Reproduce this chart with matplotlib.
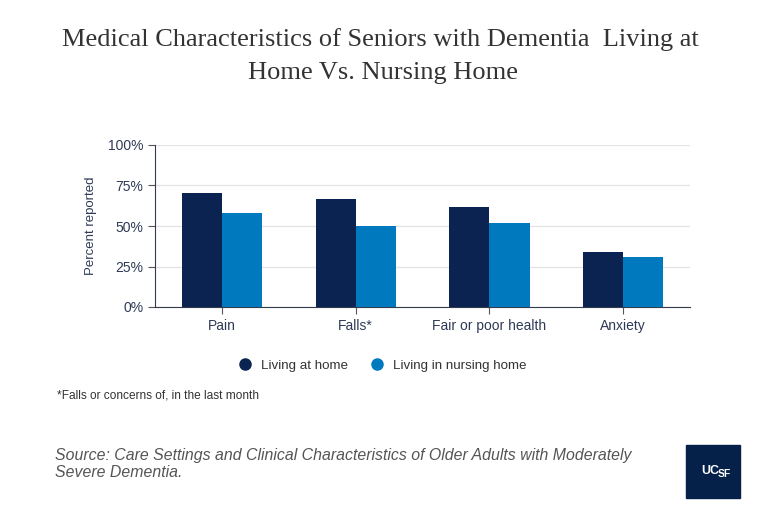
import matplotlib.pyplot as plt
from matplotlib.patches import Rectangle
import numpy as np

categories = ['Pain', 'Falls*', 'Fair or poor health', 'Anxiety']
at_home = [70.5, 66.5, 61.5, 34]
nursing_home = [58, 50, 52, 31]
yticks = [0, 25, 50, 75, 100]
series_names = ['Living at home', 'Living in nursing home']

navy = '#0b2350'
blue = '#0079bf'
text_col = '#2e3a55'

plt.rcParams['font.family'] = ['Liberation Sans', 'DejaVu Sans']

fig = plt.figure(figsize=(7.81, 5.26), dpi=100)
ax = fig.add_axes([155 / 781, 1 - 307 / 526, 535 / 781, 162 / 526])

x = np.arange(len(categories))
w = 0.3
ax.bar(x - w / 2, at_home, w, color=navy, label=series_names[0], zorder=3)
ax.bar(x + w / 2, nursing_home, w, color=blue, label=series_names[1], zorder=3)

ax.set_xlim(-0.5, len(categories) - 0.5)
ax.set_ylim(0, 100)
ax.set_yticks(yticks)
ax.set_yticklabels([f'{v}%' for v in yticks])
ax.set_xticks(x)
ax.set_xticklabels(categories)
ax.tick_params(axis='both', colors='#555555', labelcolor=text_col, labelsize=10, length=5, width=0.8)
ax.grid(axis='y', color='#e3e3e3', linewidth=0.9, zorder=0)
for s in ['top', 'right']:
    ax.spines[s].set_visible(False)
ax.spines['left'].set_color('#333b4d')
ax.spines['bottom'].set_color('#333b4d')
ax.set_ylabel('Percent reported', color=text_col, fontsize=9.5, labelpad=8)

# legend
fig.legend(handles=[plt.Line2D([], [], marker='o', ls='', color=c, markersize=8) for c in (navy, blue)],
           labels=series_names, loc='center', bbox_to_anchor=(379 / 781, 1 - 366 / 526),
           ncol=2, frameon=False, fontsize=9.6, handletextpad=0.2, columnspacing=1.2, labelcolor='#333333')

fig.text(380 / 781, 1 - 40 / 526, 'Medical Characteristics of Seniors with Dementia  Living at',
         ha='center', va='center', fontsize=19, family='Liberation Serif', color='#333333')
fig.text(383 / 781, 1 - 73 / 526, 'Home Vs. Nursing Home',
         ha='center', va='center', fontsize=19, family='Liberation Serif', color='#333333')

fig.text(57 / 781, 1 - 396 / 526, '*Falls or concerns of, in the last month',
         ha='left', va='center', fontsize=8.6, color='#333333')
fig.text(55 / 781, 1 - 464 / 526,
         'Source: Care Settings and Clinical Characteristics of Older Adults with Moderately\nSevere Dementia.',
         ha='left', va='center', fontsize=11.4, style='italic', color='#555555', linespacing=1.1)

# UCSF logo box
fig.patches.append(Rectangle((686 / 781, 1 - 498 / 526), 54 / 781, 53 / 526,
                             transform=fig.transFigure, color='#052049'))
fig.text(710 / 781, 1 - 471 / 526, 'UC', ha='center', va='center', fontsize=9, color='white', weight='bold')
fig.text(724 / 781, 1 - 474 / 526, 'SF', ha='center', va='center', fontsize=7.5, color='white', weight='bold')

fig.savefig('out.png', dpi=100, facecolor='white')
